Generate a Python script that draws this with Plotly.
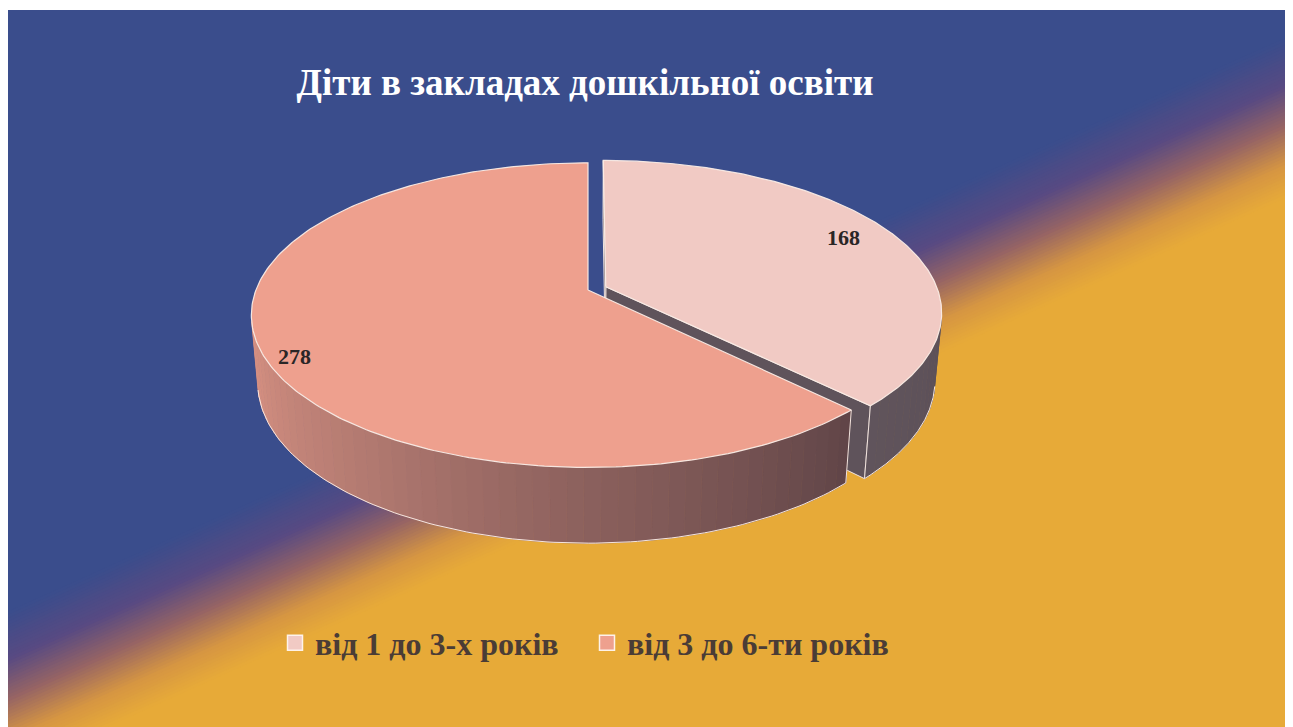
import numpy as np
import plotly.graph_objects as go

# ---------------- data ----------------
categories = ["від 1 до 3-х років", "від 3 до 6-ти років"]
values = [168, 278]
title_text = "Діти в закладах дошкільної освіти"

# ---------------- style ----------------
top_colors = [(241, 202, 196), (238, 160, 142)]
explode = [0.058, 0.0]
label_radius = [0.82, 0.9]
label_yshift = [6, -13]
AMB = np.array([8, 12, 28], float)

W, HPX = 1293, 727
OFF = 8                      # page body margin
# plot area in window pixels
X0, X1 = OFF, W + OFF
Y0, Y1 = 10, HPX + OFF

CX, CY = 588, 290
FOC = 1803.0
DIST = 5.43
ELEV = np.radians(26.5)
THICK = 0.229
CE, SE = np.cos(ELEV), np.sin(ELEV)
CAM = np.array([0.0, -DIST * CE, DIST * SE])


def proj(X, Y, Z):
    X = np.asarray(X, float); Y = np.asarray(Y, float); Z = np.asarray(Z, float)
    depth = DIST + Y * CE - Z * SE
    return CX + FOC * X / depth, CY - FOC * (Y * SE + Z * CE) / depth


def rgb(c):
    c = np.clip(np.asarray(c), 0, 255)
    return "rgb(%d,%d,%d)" % tuple(int(round(v)) for v in c)


def shade_f(theta):
    deg = np.degrees(theta)
    return np.interp(deg, [90, 135, 180, 220, 262], [0.35, 0.38, 0.57, 0.76, 0.92])


def wall_color(top, theta):
    f = shade_f(theta)
    return np.asarray(top, float) * f + (1 - f) * AMB


def lerp_color(stops, t):
    ts = [s[0] for s in stops]
    return [np.interp(t, ts, [s[1][k] for s in stops]) for k in range(3)]


fig = go.Figure()

# ---------------- background diagonal gradient ----------------
SLOPE = 0.449
B_START, B_END = 615, 775
bg_stops = [(0.0, (58, 77, 140)), (0.3, (88, 74, 130)), (0.55, (150, 100, 100)),
            (0.8, (214, 150, 66)), (1.0, (231, 170, 56))]
shapes = []
nb = 48
bs = np.linspace(B_START, B_END, nb + 1)
for k in range(nb):
    b1, b2 = bs[k], bs[k + 1] + 1.0
    col = rgb(lerp_color(bg_stops, (k + 0.5) / nb))
    path = "M %f,%f L %f,%f L %f,%f L %f,%f Z" % (
        X0, b1 - SLOPE * X0, X1, b1 - SLOPE * X1, X1, b2 - SLOPE * X1, X0, b2 - SLOPE * X0)
    shapes.append(dict(type="path", path=path, xref="x", yref="y", fillcolor=col,
                       line=dict(width=0), layer="below"))
bb = B_END
path = "M %f,%f L %f,%f L %f,%f L %f,%f Z" % (
    X0, bb - SLOPE * X0, X1, bb - SLOPE * X1, X1, Y1, X0, Y1)
shapes.append(dict(type="path", path=path, xref="x", yref="y",
                   fillcolor=rgb(bg_stops[-1][1]), line=dict(width=0), layer="below"))

# ---------------- 3D pie ----------------
total = float(sum(values))
bounds = np.concatenate([[0.0], np.cumsum(values) / total * 2 * np.pi])
th_lo = np.arccos(-1.0 / (DIST * CE))
th_hi = 2 * np.pi - th_lo
EDGE = "rgba(250,236,230,0.95)"


def poly(xs, ys, fill, line_color=None, width=0.8):
    fig.add_trace(go.Scatter(x=list(xs), y=list(ys), mode="lines", fill="toself",
                             fillcolor=fill, line=dict(color=line_color or fill, width=width),
                             hoverinfo="skip", showlegend=False))


def line(xs, ys, color=EDGE, width=1.2):
    fig.add_trace(go.Scatter(x=list(xs), y=list(ys), mode="lines",
                             line=dict(color=color, width=width),
                             hoverinfo="skip", showlegend=False))


annotations = []
for i, v in enumerate(values):
    a0, a1 = bounds[i], bounds[i + 1]
    mid = 0.5 * (a0 + a1)
    ex, ey = explode[i] * np.sin(mid), explode[i] * np.cos(mid)
    top = top_colors[i]
    apex = np.array([ex, ey, 0.0])

    # radial cut faces
    for a, n in ((a1, np.array([np.cos(a1), -np.sin(a1), 0.0])),
                 (a0, np.array([-np.cos(a0), np.sin(a0), 0.0]))):
        if np.dot(n, CAM - apex) > 1e-6:
            Xs = [ex, ex + np.sin(a), ex + np.sin(a), ex]
            Ys = [ey, ey + np.cos(a), ey + np.cos(a), ey]
            Zs = [0, 0, -THICK, -THICK]
            px, py = proj(Xs, Ys, Zs)
            face_col = wall_color(top, np.radians(128))
            poly(np.append(px, px[0]), np.append(py, py[0]), rgb(face_col), EDGE, 1.0)

    # outer wall (visible part) with shading
    lo, hi = max(a0, th_lo), min(a1, th_hi)
    if hi > lo:
        nseg = max(2, int(np.degrees(hi - lo) / 2.5))
        ed = np.linspace(lo, hi, nseg + 1)
        for k in range(nseg):
            t = np.linspace(ed[k], ed[k + 1], 4)
            tx, ty = proj(ex + np.sin(t), ey + np.cos(t), np.zeros_like(t))
            bx, by = proj(ex + np.sin(t), ey + np.cos(t), -THICK * np.ones_like(t))
            xs = np.concatenate([tx, bx[::-1], tx[:1]])
            ys = np.concatenate([ty, by[::-1], ty[:1]])
            col = rgb(wall_color(top, 0.5 * (ed[k] + ed[k + 1])))
            poly(xs, ys, col, col, 0.8)
        t = np.linspace(lo, hi, 120)
        bx, by = proj(ex + np.sin(t), ey + np.cos(t), -THICK * np.ones_like(t))
        line(bx, by, EDGE, 1.0)
        for a in (lo, hi):
            if a in (a0, a1):
                vx, vy = proj([ex + np.sin(a)] * 2, [ey + np.cos(a)] * 2, [0, -THICK])
                line(vx, vy, EDGE, 1.0)

    # top face
    t = np.linspace(a0, a1, 240)
    ax, ay = proj(ex, ey, 0)
    rx, ry = proj(ex + np.sin(t), ey + np.cos(t), np.zeros_like(t))
    xs = np.concatenate([[ax], rx, [ax]])
    ys = np.concatenate([[ay], ry, [ay]])
    poly(xs, ys, rgb(top), EDGE, 1.2)

    # data label
    r = label_radius[i]
    lx, ly = proj(ex + r * np.sin(mid), ey + r * np.cos(mid), 0)
    annotations.append(dict(x=float(lx), y=float(ly), xref="x", yref="y", text=str(v),
                            showarrow=False, yshift=label_yshift[i],
                            font=dict(family="Liberation Serif", size=22, color="#2a2626",
                                      weight="bold")))

# legend entries (one legend per entry, so each can be placed)
legend_names = ["legend", "legend2"]
legend_sym_x = [295, 607]       # window px of legend squares
legend_y = 643
for i, c in enumerate(categories):
    fig.add_trace(go.Scatter(x=[None], y=[None], mode="markers", name=c,
                             legend=legend_names[i],
                             marker=dict(symbol="square", size=15, color=rgb(top_colors[i]),
                                         line=dict(color="rgba(255,245,240,0.95)", width=1.5))))

legend_font = dict(family="Liberation Serif", size=32, color="#4a3c36", weight="bold")
legend_layouts = {}
for i, nm in enumerate(legend_names):
    legend_layouts[nm] = dict(
        orientation="h", xanchor="left", yanchor="middle",
        x=(legend_sym_x[i] - 20 - X0) / (X1 - X0),
        y=(Y1 - legend_y) / (Y1 - Y0),
        bgcolor="rgba(0,0,0,0)", font=legend_font, itemwidth=30)

fig.update_layout(
    width=W, height=HPX,
    margin=dict(l=0, r=0, t=Y0 - OFF, b=0),
    paper_bgcolor="white",
    plot_bgcolor=rgb(bg_stops[0][1]),
    shapes=shapes,
    annotations=annotations,
    title=dict(text=title_text, xref="container", x=(585 - OFF) / W, xanchor="center",
               y=1 - (82 - OFF) / HPX, yanchor="middle",
               font=dict(family="Liberation Serif", size=37, color="white", weight="bold")),
    xaxis=dict(range=[X0, X1], visible=False, fixedrange=True),
    yaxis=dict(range=[Y1, Y0], visible=False, fixedrange=True),
    showlegend=True,
    **legend_layouts,
)

fig.write_html("out.html", config={"displayModeBar": False})
